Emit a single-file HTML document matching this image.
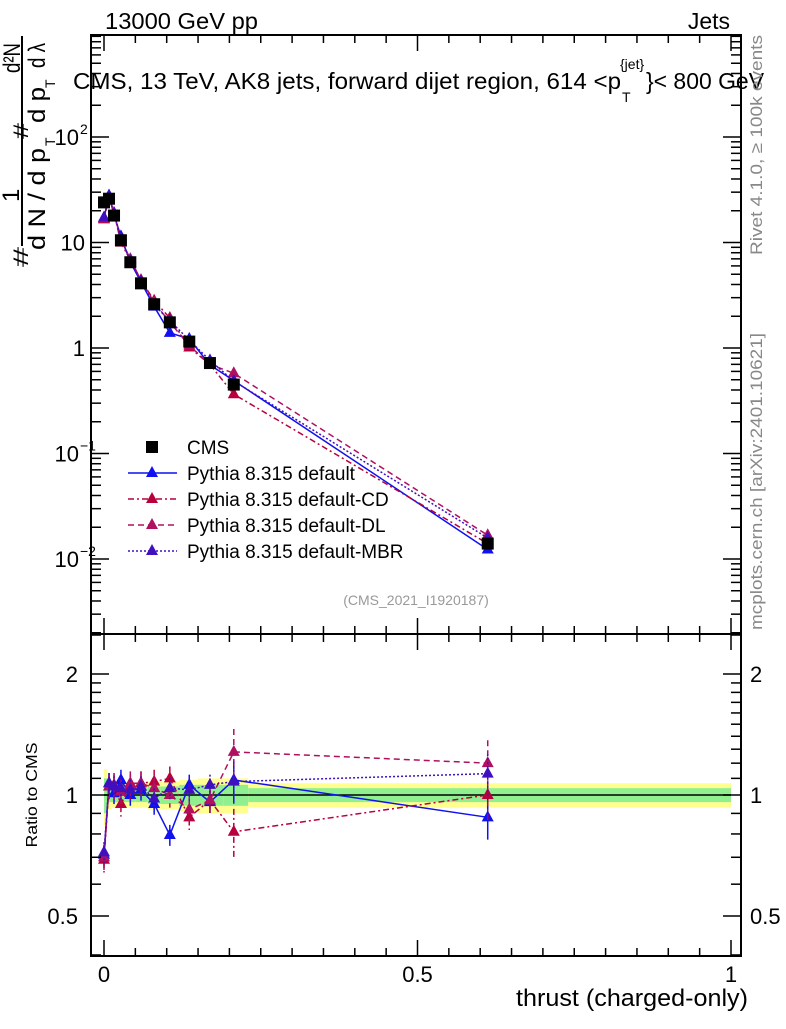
<!DOCTYPE html>
<html><head><meta charset="utf-8"><style>
html,body{margin:0;padding:0;background:#fff}
svg text{font-family:"Liberation Sans",sans-serif}
</style></head><body>
<svg id="s" xmlns="http://www.w3.org/2000/svg" width="786" height="1024" viewBox="0 0 786 1024">
<rect width="786" height="1024" fill="#fff"/>
<g id="bands"></g>
<g id="g"></g>
<text x="105" y="29" font-size="23" textLength="153" lengthAdjust="spacingAndGlyphs">13000 GeV pp</text>
<text x="730" y="29" font-size="23" text-anchor="end">Jets</text>
<text x="73" y="89" font-size="23" textLength="548" lengthAdjust="spacingAndGlyphs">CMS, 13 TeV, AK8 jets, forward dijet region, 614 &lt;p</text>
<text x="620" y="69" font-size="14">{jet}</text>
<text x="622" y="102" font-size="14">T</text>
<text x="646" y="89" font-size="23" textLength="118" lengthAdjust="spacingAndGlyphs">}&lt; 800 GeV</text>
<text x="416" y="605" font-size="14" fill="#999" text-anchor="middle">(CMS_2021_I1920187)</text>
<text transform="translate(762,255) rotate(-90)" font-size="17" fill="#888" textLength="220" lengthAdjust="spacingAndGlyphs">Rivet 4.1.0, ≥ 100k events</text>
<text transform="translate(762,630) rotate(-90)" font-size="17" fill="#888" textLength="297" lengthAdjust="spacingAndGlyphs">mcplots.cern.ch [arXiv:2401.10621]</text>
<text x="748" y="1006" font-size="24" text-anchor="end" textLength="232" lengthAdjust="spacingAndGlyphs">thrust (charged-only)</text>
<text transform="translate(37,795) rotate(-90)" font-size="16" text-anchor="middle" textLength="105" lengthAdjust="spacingAndGlyphs">Ratio to CMS</text>
<!-- y label -->
<line x1="22" y1="36" x2="22" y2="246" stroke="#000" stroke-width="2"/>
<text transform="translate(28,267) rotate(-90)" font-size="21" textLength="20" lengthAdjust="spacingAndGlyphs">#</text>
<text transform="translate(19,202) rotate(-90)" font-size="24">1</text>
<text transform="translate(45,250) rotate(-90)" font-size="24" textLength="102" lengthAdjust="spacingAndGlyphs">d N / d p</text>
<text transform="translate(55,146) rotate(-90)" font-size="14">T</text>
<text transform="translate(28,139) rotate(-90)" font-size="21" textLength="16" lengthAdjust="spacingAndGlyphs">#</text>
<text transform="translate(45,123) rotate(-90)" font-size="24" textLength="36" lengthAdjust="spacingAndGlyphs">d p</text>
<text transform="translate(55,88) rotate(-90)" font-size="14">T</text>
<text transform="translate(45,68) rotate(-90)" font-size="24" textLength="25" lengthAdjust="spacingAndGlyphs">d λ</text>
<text transform="translate(20,73) rotate(-90)" font-size="24" textLength="30" lengthAdjust="spacingAndGlyphs">d²N</text>
</svg>
<script>
var NS="http://www.w3.org/2000/svg",g=document.getElementById('g'),B=document.getElementById('bands');
function el(t,a,p){var e=document.createElementNS(NS,t);for(var k in a)e.setAttribute(k,a[k]);(p||g).appendChild(e);return e;}
function X(t){return 104+627*t;}
function Y(v){return 348-105.5*Math.log10(v);}
function R(r){return 795-402*Math.log10(r);}
var L=91,Rt=741,T=35,M=634,Bm=956;
var xs=[0,0.008,0.016,0.027,0.042,0.059,0.08,0.105,0.136,0.169,0.207,0.612];
var cms=[24,26,18,10.5,6.5,4.1,2.6,1.75,1.15,0.72,0.45,0.014];
var ser=[
 {c:"#1010f0",d:"",r:[0.71,1.07,1.01,1.09,1.0,1.03,0.95,0.795,1.06,0.96,1.09,0.88],e:0.06,n:"Pythia 8.315 default"},
 {c:"#b8003c",d:"6,3,2,3",r:[0.69,1.05,1.06,0.95,1.05,1.07,1.08,1.1,0.88,0.97,0.81,1.0],e:0.07,n:"Pythia 8.315 default-CD"},
 {c:"#b01060",d:"6,4",r:[0.70,1.05,1.05,1.02,1.07,1.07,1.04,1.0,0.92,0.97,1.28,1.2],e:0.07,n:"Pythia 8.315 default-DL"},
 {c:"#4010c0",d:"2,2",r:[0.72,1.07,1.05,1.04,1.03,1.05,0.98,1.04,1.03,1.06,1.08,1.13],e:0.06,n:"Pythia 8.315 default-MBR"}];
var edges=[0,0.005,0.012,0.02,0.035,0.05,0.07,0.09,0.12,0.15,0.19,0.23,1];
var yb=[0.16,0.08,0.07,0.07,0.07,0.07,0.08,0.08,0.09,0.1,0.1,0.07],gb=[0.1,0.04,0.04,0.04,0.04,0.04,0.05,0.05,0.06,0.06,0.06,0.04];
for(var i=0;i<12;i++){
 el('rect',{x:X(edges[i]),y:R(1+yb[i]),width:X(edges[i+1])-X(edges[i]),height:R(1-yb[i])-R(1+yb[i]),fill:"#ffff90"},B);
 el('rect',{x:X(edges[i]),y:R(1+gb[i]),width:X(edges[i+1])-X(edges[i]),height:R(1-gb[i])-R(1+gb[i]),fill:"#90f090"},B);
}
el('line',{x1:X(0),x2:X(1),y1:R(1),y2:R(1),stroke:"#000","stroke-width":1.5});
function tri(x,y,c){el('path',{d:"M"+x+","+(y-7)+" L"+(x+6)+","+(y+4)+" L"+(x-6)+","+(y+4)+" Z",fill:c});}
ser.forEach(function(s){
 var p1=[],p2=[];
 for(var i=0;i<12;i++){p1.push(X(xs[i])+","+Y(cms[i]*s.r[i]));p2.push(X(xs[i])+","+R(s.r[i]));}
 el('polyline',{points:p1.join(" "),fill:"none",stroke:s.c,"stroke-width":1.5,"stroke-dasharray":s.d});
 el('polyline',{points:p2.join(" "),fill:"none",stroke:s.c,"stroke-width":1.5,"stroke-dasharray":s.d});
 for(var i=0;i<12;i++){
  var x=X(xs[i]),r=s.r[i],e=s.e*(i==11||i==10?2:1);
  el('line',{x1:x,x2:x,y1:R(r*(1+e)),y2:R(r*(1-e)),stroke:s.c,"stroke-width":1.5,"stroke-dasharray":s.d});
  tri(x,R(r),s.c);
  tri(x,Y(cms[i]*r),s.c);
 }
});
for(var i=0;i<12;i++){var x=X(xs[i]),y=Y(cms[i]);el('rect',{x:x-6,y:y-6,width:12,height:12,fill:"#000"});}
el('rect',{x:L,y:T,width:Rt-L,height:M-T,fill:"none",stroke:"#000","stroke-width":2});
el('rect',{x:L,y:M,width:Rt-L,height:Bm-M,fill:"none",stroke:"#000","stroke-width":2});
for(var k=0;k<=20;k++){var t=k*0.05,x=X(t),len=(k%10==0)?16:8;
 [[T,1],[M,-1],[M,1],[Bm,-1]].forEach(function(a){el('line',{x1:x,x2:x,y1:a[0],y2:a[0]+a[1]*len,stroke:"#000","stroke-width":1.5});});}
[["0",0],["0.5",0.5],["1",1]].forEach(function(a){var t=el('text',{x:X(a[1]),y:982,"font-size":22,"text-anchor":"middle"});t.textContent=a[0];});
for(var dcd=-3;dcd<=2;dcd++)for(var m=1;m<10;m++){var v=m*Math.pow(10,dcd),y=Y(v);if(y<T||y>M)continue;var len=m==1?18:10;
 el('line',{x1:L,x2:L+len,y1:y,y2:y,stroke:"#000","stroke-width":1.5});el('line',{x1:Rt,x2:Rt-len,y1:y,y2:y,stroke:"#000","stroke-width":1.5});}
var lab=[["10",-2,true],["10",-1,true],["1",0],["10",1],["10",2,true]];
lab.forEach(function(a){var y=Y(Math.pow(10,a[1]));var t=el('text',{x:a[2]?79:85,y:y+8,"font-size":22,"text-anchor":"end"});t.textContent=a[0];
 if(a[2]){var s=el('text',{x:80,y:y-3,"font-size":14});s.textContent=String(a[1]).replace("-","−");}});
[0.4,0.5,0.6,0.7,0.8,0.9,1,1.1,1.2,1.3,1.4,1.5,1.6,1.7,1.8,1.9,2,2.5].forEach(function(v){var y=R(v);if(y<M||y>Bm)return;var len=(v==0.5||v==1||v==2)?18:10;
 el('line',{x1:L,x2:L+len,y1:y,y2:y,stroke:"#000","stroke-width":1.5});el('line',{x1:Rt,x2:Rt-len,y1:y,y2:y,stroke:"#000","stroke-width":1.5});});
[["2",2],["1",1],["0.5",0.5]].forEach(function(a){var y=R(a[1]);var t=el('text',{x:78,y:y+8,"font-size":22,"text-anchor":"end"});t.textContent=a[0];
 t=el('text',{x:750,y:y+8,"font-size":22});t.textContent=a[0];});
el('rect',{x:146,y:441,width:12,height:12,fill:"#000"});
var lt=el('text',{x:187,y:454,"font-size":19});lt.textContent="CMS";
ser.forEach(function(s,i){var y=473+i*26;el('line',{x1:128,x2:177,y1:y,y2:y,stroke:s.c,"stroke-width":1.5,"stroke-dasharray":s.d});tri(152,y,s.c);
 var t=el('text',{x:187,y:y+7,"font-size":19});t.textContent=s.n;});
</script>
</body></html>
